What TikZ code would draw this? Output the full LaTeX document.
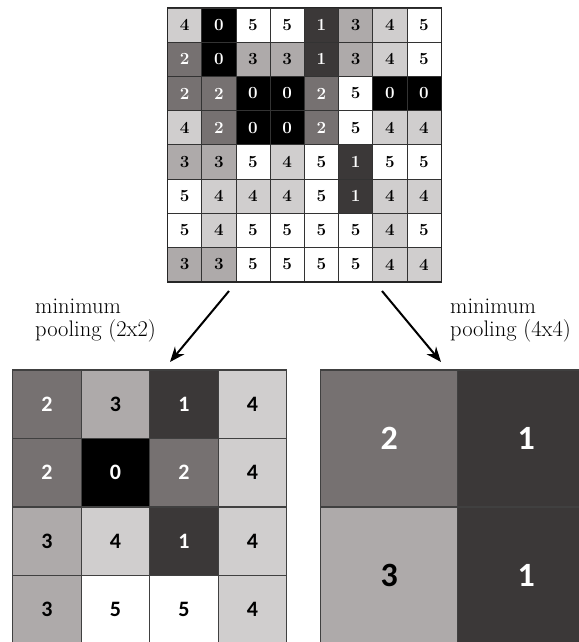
\documentclass[tikz,border=0pt]{standalone}
\usepackage{fontspec}
\usetikzlibrary{arrows.meta}
\newfontfamily\calibri{Carlito}
\definecolor{v0}{HTML}{000000}
\definecolor{v1}{HTML}{3B3838}
\definecolor{v2}{HTML}{767171}
\definecolor{v3}{HTML}{AEAAAA}
\definecolor{v4}{HTML}{D0CECE}
\definecolor{v5}{HTML}{FFFFFF}
\begin{document}
\begin{tikzpicture}[x=1pt,y=-1pt]
    % Define styles for cells
    \tikzstyle{incell} = [draw=black!80, line width=0.8pt, rectangle, minimum width=34.2pt, minimum height=34.2pt, inner sep=0pt, font=\fontsize{17}{17}\selectfont\bfseries]
    \tikzstyle{smallcell} = [draw=black!75, line width=1.2pt, rectangle, minimum width=68.5pt, minimum height=68.5pt, inner sep=0pt, font=\fontsize{22}{22}\selectfont\calibri\bfseries]
    \tikzstyle{bigcell} = [draw=black!75, line width=1.2pt, rectangle, minimum width=137pt, minimum height=137pt, inner sep=0pt, font=\fontsize{34}{34}\selectfont\calibri\bfseries]
    \tikzstyle{pooltext} = [align=left, anchor=base west, inner sep=0pt, font=\fontsize{22.5}{22.5}\selectfont]
    \tikzstyle{poolarrow} = [-{Stealth[length=15pt,width=12pt]}, line width=2pt]

    \useasboundingbox (0,0) rectangle (578,642);

    % Draw the input map
    \foreach \rowvals [count=\row] in {{4,0,5,5,1,3,4,5},{2,0,3,3,1,3,4,5},{2,2,0,0,2,5,0,0},{4,2,0,0,2,5,4,4},{3,3,5,4,5,1,5,5},{5,4,4,4,5,1,4,4},{5,4,5,5,5,5,4,5},{3,3,5,5,5,5,4,4}} {
        \foreach \v [count=\col] in \rowvals {
            \node(a\col\row)[incell, fill=v\v] at (150.4+34.2*\col, -9.1+34.2*\row) {\ifnum\v<3 \color{white}\fi\v};
          }
      }
    \draw[black!85, line width=1.2pt] (a11.north west) rectangle (a88.south east);

    % Draw the 2x2 result
    \foreach \rowvals [count=\row] in {{2,3,1,4},{2,0,2,4},{3,4,1,4},{3,5,5,4}} {
        \foreach \v [count=\col] in \rowvals {
            \node(b\col\row)[smallcell, fill=v\v] at (-21.55+68.5*\col, 335.75+68.5*\row) {\ifnum\v<3 \color{white}\fi\v};
          }
      }

    % Draw the 4x4 result
    \foreach \rowvals [count=\row] in {{2,1},{3,1}} {
        \foreach \v [count=\col] in \rowvals {
            \node(c\col\row)[bigcell, fill=v\v] at (252.2+137*\col, 301.5+137*\row) {\ifnum\v<3 \color{white}\fi\v};
          }
      }

    \node(lblleft)[pooltext] at (35,336) {minimum\\pooling (2x2)};
    \node(lblright)[pooltext] at (450,336) {minimum\\pooling (4x4)};

    \coordinate (l1) at (229,291);
    \coordinate (l2) at (170,362);
    \coordinate (r1) at (382,291);
    \coordinate (r2) at (441,362);
    \draw[poolarrow] (l1) -- (l2);
    \draw[poolarrow] (r1) -- (r2);
  \end{tikzpicture}
\end{document}
